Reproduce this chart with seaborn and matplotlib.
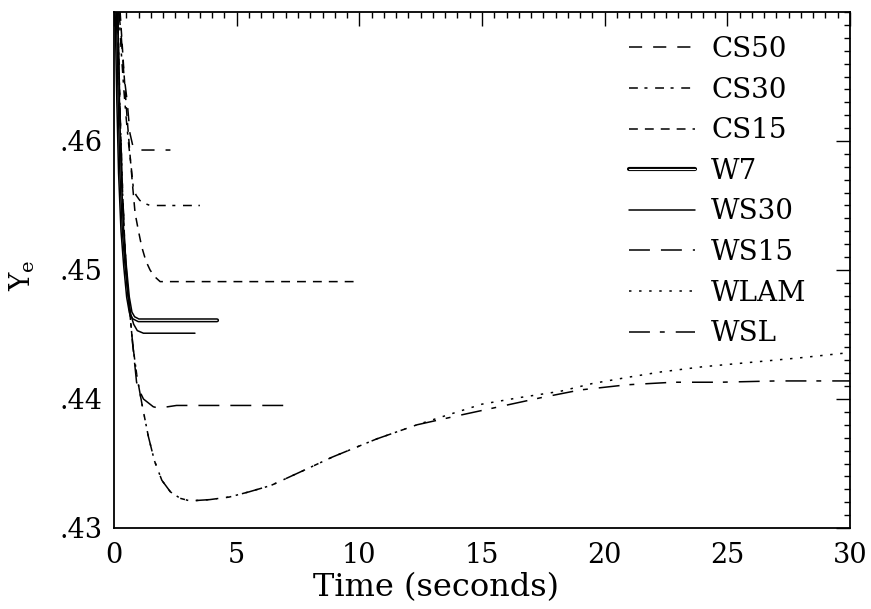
import numpy as np
import pandas as pd
import matplotlib
matplotlib.use("Agg")
import matplotlib.pyplot as plt
import matplotlib.patheffects as pe
from matplotlib.ticker import MultipleLocator, FixedLocator, FixedFormatter
import seaborn as sns

# ---------------- data ----------------
cs50_x = [0.2, 0.3, 0.4, 0.53, 0.65, 0.77, 0.98, 1.3, 2.3]
cs50_y = [.4700, .4680, .4652, .4632, .4606, .4596, .4593, .4593, .4593]

cs30_x = [0.2, 0.3, 0.4, 0.5, 0.6, 0.7, 0.78, 0.9, 1.05, 1.2, 1.47, 2.0, 3.5]
cs30_y = [.4700, .4668, .4640, .4617, .4597, .4580, .4565, .4558, .4554, .4552, .4550, .4550, .4550]

cs15_x = [0.25, 0.35, 0.45, 0.55, 0.65, 0.75, 0.86, 1.0, 1.13, 1.3, 1.47, 1.65, 1.88, 2.5, 9.8]
cs15_y = [.4700, .4670, .4640, .4614, .4590, .4567, .4544, .4530, .4518, .4507, .4500, .4495, .4491, .4491, .4491]

w7_x = [0.1, 0.17, 0.24, 0.34, 0.45, 0.57, 0.68, 0.8, 1.0, 1.6, 4.2]
w7_y = [.4700, .4630, .4575, .4530, .4503, .4479, .4467, .4463, .4461, .4461, .4461]

ws30_x = [0.1, 0.17, 0.24, 0.34, 0.45, 0.57, 0.68, 0.8, 0.95, 1.2, 2.0, 3.3]
ws30_y = [.4700, .4630, .4575, .4530, .4503, .4480, .4466, .4458, .4453, .4451, .4451, .4451]

ws15_x = [0.15, 0.25, 0.35, 0.45, 0.55, 0.65, 0.77, 0.92, 1.05, 1.2, 1.4, 1.6, 1.8, 2.2, 2.55, 2.96, 5.0, 7.3]
ws15_y = [.4700, .4620, .4560, .4515, .4487, .4466, .4441, .4413, .4406, .4400, .4397, .4394, .4393, .4394, .4395, .4395, .4395, .4395]

wlam_x = [0.15, 0.25, 0.35, 0.45, 0.55, 0.65, 0.77, 0.94, 1.15, 1.4, 1.65, 1.95, 2.3, 2.7, 3.1, 3.9,
          4.7, 5.5, 6.4, 7.2, 8.0, 8.9, 10.7, 12.35, 13.5, 15.0, 16.5, 18.2, 19.5, 21.0, 22.3, 24.0,
          26.3, 28.0, 30.0]
wlam_y = [.4700, .4620, .4560, .4515, .4487, .4466, .4441, .4417, .4395, .4371, .4352, .4337, .4328,
          .4323, .4321, .4322, .4324, .4328, .4333, .4340, .4347, .4355, .4369, .4380, .4387, .4396,
          .4401, .4406, .4412, .4417, .4421, .4425, .4429, .4432, .4436]

wsl_x = [0.15, 0.25, 0.35, 0.45, 0.55, 0.65, 0.77, 0.94, 1.15, 1.4, 1.65, 1.95, 2.3, 2.7, 3.1, 3.9,
         4.7, 5.5, 6.4, 7.2, 8.0, 8.9, 10.7, 12.35, 14.0, 15.7, 17.4, 19.0, 20.9, 22.8, 24.7, 27.0, 30.0]
wsl_y = [.4700, .4620, .4560, .4515, .4487, .4466, .4441, .4417, .4395, .4371, .4352, .4337, .4328,
         .4323, .4321, .4322, .4324, .4328, .4333, .4340, .4347, .4355, .4369, .4380, .4387, .4394,
         .4401, .4407, .4411, .4413, .4413, .4414, .4414]

labels = ["CS50", "CS30", "CS15", "W7", "WS30", "WS15", "WLAM", "WSL"]
xticks = [0, 5, 10, 15, 20, 25, 30]
yticks = [0.43, 0.44, 0.45, 0.46]
ytick_labels = [".43", ".44", ".45", ".46"]

# ---------------- styling ----------------
sns.set_theme(style="white")
plt.rcParams["font.family"] = ["DejaVu Serif"]
plt.rcParams["mathtext.fontset"] = "dejavuserif"
for k in ["text.color", "axes.labelcolor", "xtick.color", "ytick.color"]:
    plt.rcParams[k] = "black"

series = [
    (cs50_x, cs50_y, dict(linestyle=(0, (8.6, 7.2)))),
    (cs30_x, cs30_y, dict(linestyle=(0, (5.8, 4.3, 2.0, 5.0)))),
    (cs15_x, cs15_y, dict(linestyle=(0, (5.8, 4.6)))),
    (w7_x, w7_y, dict(linestyle="-", color="white", linewidth=0.8,
                      path_effects=[pe.withStroke(linewidth=3.0, foreground="black")])),
    (ws30_x, ws30_y, dict(linestyle="-")),
    (ws15_x, ws15_y, dict(linestyle=(0, (13.7, 7.2)))),
    (wlam_x, wlam_y, dict(linestyle=(0, (1.6, 5.0)))),
    (wsl_x, wsl_y, dict(linestyle=(0, (13.7, 6.5, 3.2, 7.2)))),
]

fig = plt.figure(figsize=(8.71, 6.09), dpi=100)
ax = fig.add_axes([114 / 871, 1 - 528 / 609, 736 / 871, 516 / 609])

handles = []
for (xs, ys, st), name in zip(series, labels):
    kw = dict(color="black", linewidth=1.1)
    kw.update(st)
    df = pd.DataFrame({"x": xs, "y": ys})
    n_before = len(ax.lines)
    sns.lineplot(data=df, x="x", y="y", ax=ax, sort=False, estimator=None,
                 legend=False, **kw)
    line = ax.lines[n_before]
    line.set_label(name)
    handles.append(line)

ax.set_xlim(0, 30)
ax.set_ylim(0.43, 0.47)
ax.xaxis.set_major_locator(FixedLocator(xticks))
ax.xaxis.set_minor_locator(MultipleLocator(0.5))
ax.yaxis.set_major_locator(FixedLocator(yticks))
ax.yaxis.set_major_formatter(FixedFormatter(ytick_labels))
ax.yaxis.set_minor_locator(MultipleLocator(0.001))

ax.tick_params(which="both", direction="in", top=True, right=True,
               color="black", width=1.0, labelcolor="black")
ax.tick_params(which="major", length=10, labelsize=19.5)
ax.tick_params(which="minor", length=4.5)
ax.tick_params(axis="x", which="major", pad=10)
ax.tick_params(axis="y", which="major", pad=8)
for sp in ax.spines.values():
    sp.set_visible(True)
    sp.set_color("black")
    sp.set_linewidth(1.3)

ax.set_xlabel("Time (seconds)", fontsize=23, color="black")
ax.xaxis.set_label_coords((435.5 - 114) / 736, -0.085)
ax.set_ylabel(r"$\mathrm{Y}_{\mathrm{e}}$", fontsize=20, color="black")
ax.yaxis.set_label_coords(-0.105, 0.49)

leg = ax.legend(handles=handles, labels=labels, loc="upper left",
                bbox_to_anchor=((629 - 114) / 736, (528 - 36) / 516),
                frameon=False, fontsize=20, handlelength=2.38,
                handletextpad=0.58, labelspacing=0.49, borderpad=0,
                borderaxespad=0)
for t in leg.get_texts():
    t.set_color("black")

fig.savefig("out.png", dpi=100, facecolor="white")
